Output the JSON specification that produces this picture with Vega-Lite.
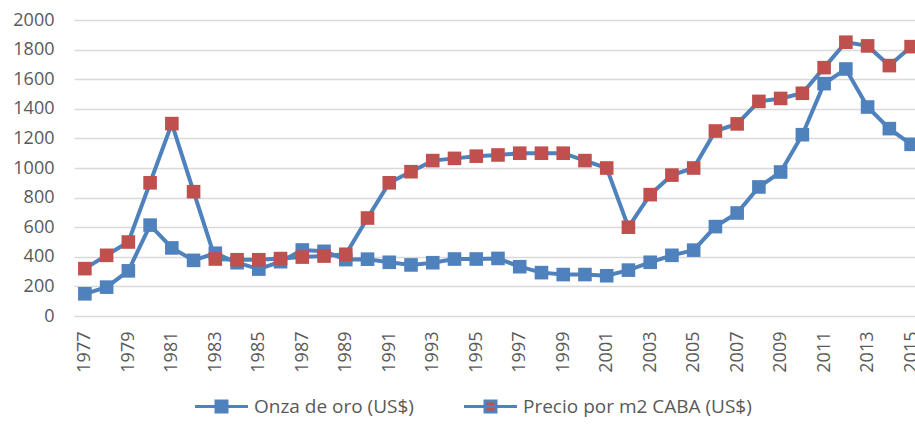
{
  "$schema": "https://vega.github.io/schema/vega-lite/v6.json",
  "autosize": "none",
  "width": 841,
  "height": 296,
  "padding": {"left": 74, "top": 20, "right": 0, "bottom": 108},
  "background": "white",
  "config": {
    "view": {"stroke": null},
    "font": "Open Sans"
  },
  "data": {
    "values": [
      {"year": 1977, "serie": "Onza de oro (US$)", "value": 150},
      {"year": 1978, "serie": "Onza de oro (US$)", "value": 195},
      {"year": 1979, "serie": "Onza de oro (US$)", "value": 305},
      {"year": 1980, "serie": "Onza de oro (US$)", "value": 614},
      {"year": 1981, "serie": "Onza de oro (US$)", "value": 460},
      {"year": 1982, "serie": "Onza de oro (US$)", "value": 376},
      {"year": 1983, "serie": "Onza de oro (US$)", "value": 424},
      {"year": 1984, "serie": "Onza de oro (US$)", "value": 360},
      {"year": 1985, "serie": "Onza de oro (US$)", "value": 317},
      {"year": 1986, "serie": "Onza de oro (US$)", "value": 367},
      {"year": 1987, "serie": "Onza de oro (US$)", "value": 446},
      {"year": 1988, "serie": "Onza de oro (US$)", "value": 437},
      {"year": 1989, "serie": "Onza de oro (US$)", "value": 381},
      {"year": 1990, "serie": "Onza de oro (US$)", "value": 384},
      {"year": 1991, "serie": "Onza de oro (US$)", "value": 363},
      {"year": 1992, "serie": "Onza de oro (US$)", "value": 345},
      {"year": 1993, "serie": "Onza de oro (US$)", "value": 360},
      {"year": 1994, "serie": "Onza de oro (US$)", "value": 385},
      {"year": 1995, "serie": "Onza de oro (US$)", "value": 385},
      {"year": 1996, "serie": "Onza de oro (US$)", "value": 389},
      {"year": 1997, "serie": "Onza de oro (US$)", "value": 333},
      {"year": 1998, "serie": "Onza de oro (US$)", "value": 293},
      {"year": 1999, "serie": "Onza de oro (US$)", "value": 280},
      {"year": 2000, "serie": "Onza de oro (US$)", "value": 280},
      {"year": 2001, "serie": "Onza de oro (US$)", "value": 272},
      {"year": 2002, "serie": "Onza de oro (US$)", "value": 310},
      {"year": 2003, "serie": "Onza de oro (US$)", "value": 363},
      {"year": 2004, "serie": "Onza de oro (US$)", "value": 410},
      {"year": 2005, "serie": "Onza de oro (US$)", "value": 445},
      {"year": 2006, "serie": "Onza de oro (US$)", "value": 604},
      {"year": 2007, "serie": "Onza de oro (US$)", "value": 696},
      {"year": 2008, "serie": "Onza de oro (US$)", "value": 872},
      {"year": 2009, "serie": "Onza de oro (US$)", "value": 973},
      {"year": 2010, "serie": "Onza de oro (US$)", "value": 1225},
      {"year": 2011, "serie": "Onza de oro (US$)", "value": 1570},
      {"year": 2012, "serie": "Onza de oro (US$)", "value": 1669},
      {"year": 2013, "serie": "Onza de oro (US$)", "value": 1412},
      {"year": 2014, "serie": "Onza de oro (US$)", "value": 1266},
      {"year": 2015, "serie": "Onza de oro (US$)", "value": 1160},
      {"year": 1977, "serie": "Precio por m2 CABA (US$)", "value": 320},
      {"year": 1978, "serie": "Precio por m2 CABA (US$)", "value": 410},
      {"year": 1979, "serie": "Precio por m2 CABA (US$)", "value": 500},
      {"year": 1980, "serie": "Precio por m2 CABA (US$)", "value": 900},
      {"year": 1981, "serie": "Precio por m2 CABA (US$)", "value": 1300},
      {"year": 1982, "serie": "Precio por m2 CABA (US$)", "value": 840},
      {"year": 1983, "serie": "Precio por m2 CABA (US$)", "value": 385},
      {"year": 1984, "serie": "Precio por m2 CABA (US$)", "value": 380},
      {"year": 1985, "serie": "Precio por m2 CABA (US$)", "value": 380},
      {"year": 1986, "serie": "Precio por m2 CABA (US$)", "value": 388},
      {"year": 1987, "serie": "Precio por m2 CABA (US$)", "value": 398},
      {"year": 1988, "serie": "Precio por m2 CABA (US$)", "value": 405},
      {"year": 1989, "serie": "Precio por m2 CABA (US$)", "value": 417},
      {"year": 1990, "serie": "Precio por m2 CABA (US$)", "value": 662},
      {"year": 1991, "serie": "Precio por m2 CABA (US$)", "value": 900},
      {"year": 1992, "serie": "Precio por m2 CABA (US$)", "value": 975},
      {"year": 1993, "serie": "Precio por m2 CABA (US$)", "value": 1050},
      {"year": 1994, "serie": "Precio por m2 CABA (US$)", "value": 1065},
      {"year": 1995, "serie": "Precio por m2 CABA (US$)", "value": 1080},
      {"year": 1996, "serie": "Precio por m2 CABA (US$)", "value": 1088},
      {"year": 1997, "serie": "Precio por m2 CABA (US$)", "value": 1100},
      {"year": 1998, "serie": "Precio por m2 CABA (US$)", "value": 1100},
      {"year": 1999, "serie": "Precio por m2 CABA (US$)", "value": 1100},
      {"year": 2000, "serie": "Precio por m2 CABA (US$)", "value": 1050},
      {"year": 2001, "serie": "Precio por m2 CABA (US$)", "value": 1000},
      {"year": 2002, "serie": "Precio por m2 CABA (US$)", "value": 600},
      {"year": 2003, "serie": "Precio por m2 CABA (US$)", "value": 820},
      {"year": 2004, "serie": "Precio por m2 CABA (US$)", "value": 952},
      {"year": 2005, "serie": "Precio por m2 CABA (US$)", "value": 1000},
      {"year": 2006, "serie": "Precio por m2 CABA (US$)", "value": 1250},
      {"year": 2007, "serie": "Precio por m2 CABA (US$)", "value": 1298},
      {"year": 2008, "serie": "Precio por m2 CABA (US$)", "value": 1450},
      {"year": 2009, "serie": "Precio por m2 CABA (US$)", "value": 1470},
      {"year": 2010, "serie": "Precio por m2 CABA (US$)", "value": 1505},
      {"year": 2011, "serie": "Precio por m2 CABA (US$)", "value": 1678},
      {"year": 2012, "serie": "Precio por m2 CABA (US$)", "value": 1850},
      {"year": 2013, "serie": "Precio por m2 CABA (US$)", "value": 1825},
      {"year": 2014, "serie": "Precio por m2 CABA (US$)", "value": 1692},
      {"year": 2015, "serie": "Precio por m2 CABA (US$)", "value": 1820}
    ]
  },
  "encoding": {
    "x": {
      "field": "year",
      "type": "quantitative",
      "scale": {"domain": [1976.5, 2015.18], "nice": false, "zero": false},
      "axis": {
        "title": null,
        "values": [1977, 1979, 1981, 1983, 1985, 1987, 1989, 1991, 1993, 1995, 1997, 1999, 2001, 2003, 2005, 2007, 2009, 2011, 2013, 2015],
        "format": "d",
        "labelAngle": 270,
        "labelAlign": "right",
        "labelBaseline": "middle",
        "labelFontSize": 18,
        "labelColor": "#595959",
        "labelPadding": 15,
        "labelFlush": false,
        "labelOverlap": false,
        "ticks": false,
        "tickSize": 0,
        "domain": false,
        "grid": false
      }
    },
    "y": {
      "field": "value",
      "type": "quantitative",
      "scale": {"domain": [0, 2000], "nice": false},
      "axis": {
        "title": null,
        "values": [0, 200, 400, 600, 800, 1000, 1200, 1400, 1600, 1800, 2000],
        "format": "d",
        "labelFontSize": 18,
        "labelColor": "#595959",
        "labelPadding": 20,
        "ticks": false,
        "tickSize": 0,
        "domain": false,
        "grid": true,
        "gridColor": "#D9D9D9",
        "gridWidth": 1.5
      }
    }
  },
  "layer": [
    {
      "mark": {"type": "line", "color": "#4F81BD", "strokeWidth": 4},
      "encoding": {"detail": {"field": "serie", "type": "nominal"}}
    },
    {
      "mark": {"type": "point", "shape": "square", "filled": true, "size": 185, "opacity": 1, "strokeWidth": 0},
      "encoding": {
        "fill": {
          "field": "serie",
          "type": "nominal",
          "scale": {"domain": ["Onza de oro (US$)", "Precio por m2 CABA (US$)"], "range": ["#4F81BD", "#C0504D"]},
          "legend": {
            "title": null,
            "orient": "none",
            "legendX": 138,
            "legendY": 377,
            "direction": "horizontal",
            "symbolType": "M-5.3,0H5.3M-1.1,-1.1H1.1V1.1H-1.1Z",
            "symbolSize": 100,
            "symbolStrokeColor": "#4F81BD",
            "symbolStrokeWidth": 3,
            "symbolOpacity": 1,
            "labelFont": "Open Sans",
            "labelFontSize": 19,
            "labelColor": "#595959",
            "labelLimit": 0,
            "labelOffset": 23,
            "columnPadding": 44,
            "encode": {
              "symbols": {"update": {"stroke": {"value": "#4F81BD"}, "strokeWidth": {"value": 3}}}
            }
          }
        }
      }
    }
  ]
}
